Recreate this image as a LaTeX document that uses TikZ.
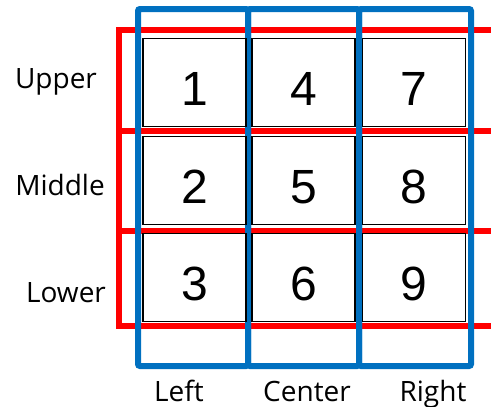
\documentclass[tikz,border=0pt]{standalone}
\usepackage{fontspec}
\setmainfont{Open Sans}
\newfontfamily\digitfont{Liberation Sans}
\usetikzlibrary{positioning}
\definecolor{rowred}{HTML}{FF0000}
\definecolor{colblue}{HTML}{0070C0}

\begin{document}
\begin{tikzpicture}[x=1pt, y=-1pt,
  rowframe/.style={draw=rowred, line width=6pt},
  colframe/.style={draw=colblue, line width=6pt},
  cell/.style={draw, fill=white, line width=1.6pt, inner sep=0pt, minimum width=103pt, minimum height=88pt, text height=45pt, text depth=0pt, font=\digitfont\fontsize{48}{50}\selectfont},
  lbl/.style={anchor=base, font=\fontsize{28}{32}\selectfont}]
\useasboundingbox (0,0) rectangle (491,407);
\clip (0,0) rectangle (491,407);
% rows (red) and columns (blue)
\draw[rowframe] (119,30) rectangle (520,131);
\draw[rowframe] (119,131) rectangle (520,231);
\draw[rowframe] (119,231) rectangle (520,326);
\draw[colframe, rounded corners=2pt] (138,9) rectangle (248,366);
\draw[colframe, rounded corners=2pt] (248,9) rectangle (359,366);
\draw[colframe, rounded corners=2pt] (359,9) rectangle (471,366);
% the nine cells
\node[cell] (c1) at (194.5,82.5) {1};
\node[cell] (c2) at (194.5,180.5) {2};
\node[cell] (c3) at (194.5,277.5) {3};
\node[cell] (c4) at (303.5,82.5) {4};
\node[cell] (c5) at (303.5,180.5) {5};
\node[cell] (c6) at (303.5,277.5) {6};
\node[cell] (c7) at (414,82.5) {7};
\node[cell] (c8) at (414,180.5) {8};
\node[cell] (c9) at (414,277.5) {9};
% labels
\node[lbl] (upper) at (56,88) {Upper};
\node[lbl] (middle) at (60,195) {Middle};
\node[lbl] (lower) at (66,302) {Lower};
\node[lbl] (left) at (179,401) {Left};
\node[lbl] (center) at (307,401) {Center};
\node[lbl] (right) at (433,401) {Right};
\end{tikzpicture}
\end{document}
